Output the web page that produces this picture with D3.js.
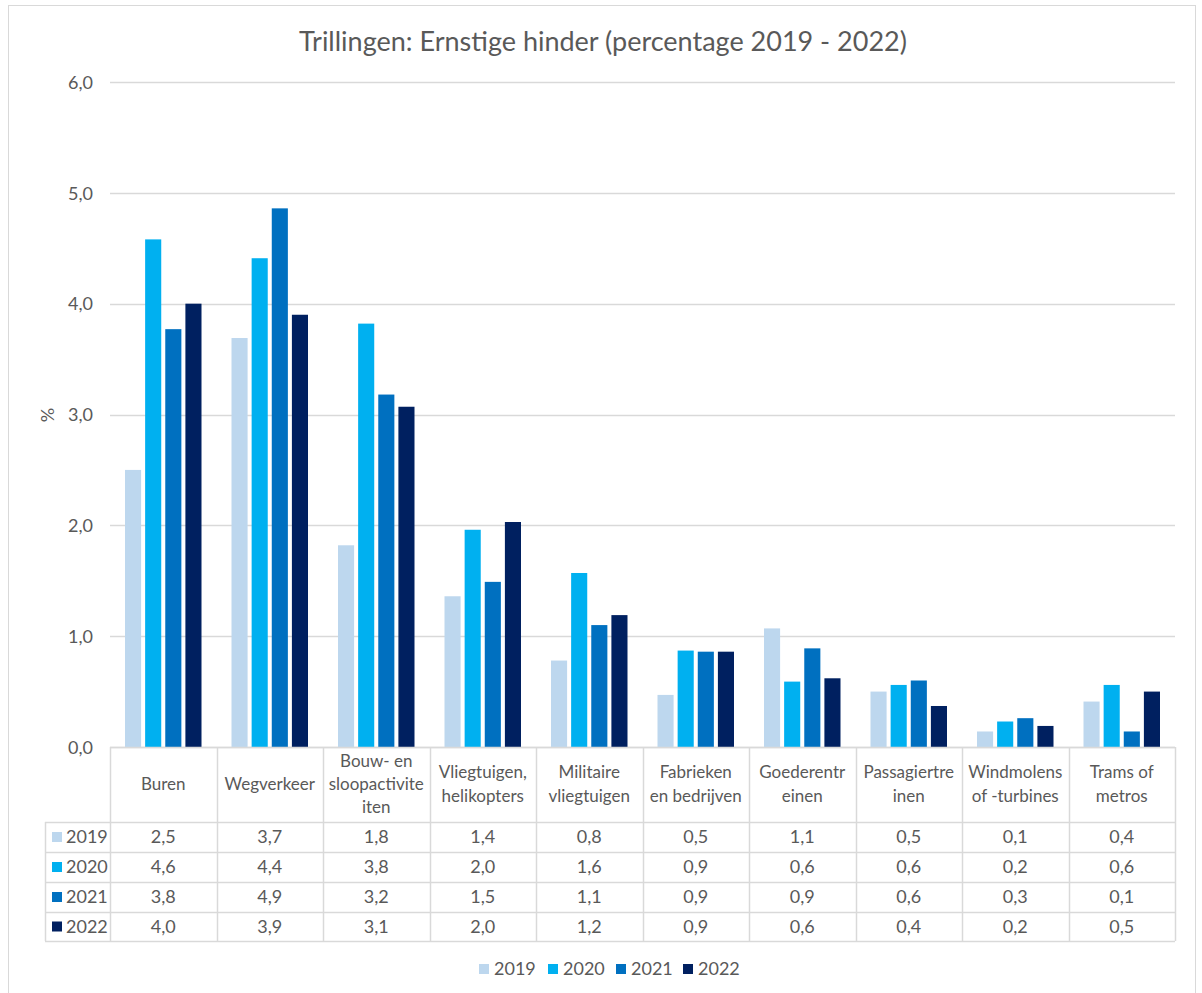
<!DOCTYPE html>
<html><head><meta charset="utf-8">
<script src="https://cdn.jsdelivr.net/npm/d3@7"></script>
<style>body{margin:0;background:#fff}svg{display:block}</style>
</head><body>
<script>
const title = "Trillingen: Ernstige hinder (percentage 2019 - 2022)";
const categories = ["Buren","Wegverkeer","Bouw- en\nsloopactivite\niten","Vliegtuigen,\nhelikopters","Militaire\nvliegtuigen","Fabrieken\nen bedrijven","Goederentr\neinen","Passagiertre\ninen","Windmolens\nof -turbines","Trams of\nmetros"];
const years = ["2019","2020","2021","2022"];
const v2019 = [2.50,3.69,1.82,1.36,0.78,0.47,1.07,0.50,0.14,0.41];
const v2020 = [4.58,4.41,3.82,1.96,1.57,0.87,0.59,0.56,0.23,0.56];
const v2021 = [3.77,4.86,3.18,1.49,1.10,0.86,0.89,0.60,0.26,0.14];
const v2022 = [4.00,3.90,3.07,2.03,1.19,0.86,0.62,0.37,0.19,0.50];
const yTicks = [0,1,2,3,4,5,6];
const colors = ["#BDD7EE","#00B0F0","#0070C0","#002060"];
const series = [v2019,v2020,v2021,v2022];

const W=1202,H=993;
const font="Lato, 'Open Sans', sans-serif";
const textCol="#595959", gridCol="#D9D9D9";
const numSize=18, wordSize=17;
const svg=d3.select("body").append("svg").attr("width",W).attr("height",H).style("font-family",font);
svg.append("rect").attr("x",8.5).attr("y",5.5).attr("width",1187).attr("height",H).attr("fill","#fff").attr("stroke","#D9D9D9");

svg.append("text").attr("x",603).attr("y",51).attr("text-anchor","middle").attr("font-size",27).attr("fill",textCol).text(title);

const pLeft=110,pRight=1175,pTop=82,pBottom=747;
const x0=d3.scaleBand().domain(categories).range([pLeft,pRight]);
const x1=d3.scaleBand().domain(years).range([15,x0.bandwidth()-15]).paddingInner(0.2);
const y=d3.scaleLinear().domain([0,6]).range([pBottom,pTop]);
const fmt=v=>d3.format(".1f")(v).replace(".",",");

// grid
svg.append("g").selectAll("line").data(yTicks).join("line")
 .attr("x1",pLeft).attr("x2",pRight).attr("y1",d=>Math.round(y(d))+0.5).attr("y2",d=>Math.round(y(d))+0.5)
 .attr("stroke",gridCol).attr("stroke-width",1.5);
// y axis labels
const ya=svg.append("g").attr("transform",`translate(${pLeft-17},0)`).call(d3.axisLeft(y).tickValues(yTicks).tickFormat(fmt).tickSize(0).tickPadding(0));
ya.select(".domain").remove();
ya.selectAll("text").attr("font-size",numSize).attr("fill",textCol).attr("font-family",font).attr("dy","0.35em");
svg.append("text").attr("transform",`translate(54,415) rotate(-90)`).attr("text-anchor","middle").attr("font-size",numSize).attr("fill",textCol).text("%");

// bars
series.forEach((s,i)=>{
  svg.append("g").selectAll("rect").data(s).join("rect")
   .attr("x",(d,j)=>x0(categories[j])+x1(years[i]))
   .attr("width",x1.bandwidth())
   .attr("y",d=>y(d)).attr("height",d=>y(0)-y(d))
   .attr("fill",colors[i]);
});

// data table
const rowTop=[747,822,852,882,912,941];
const tg=svg.append("g");
tg.append("line").attr("x1",pLeft).attr("x2",pRight).attr("y1",rowTop[0]+0.5).attr("y2",rowTop[0]+0.5).attr("stroke",gridCol).attr("stroke-width",1.5);
rowTop.slice(1).forEach(yy=>tg.append("line").attr("x1",45).attr("x2",pRight).attr("y1",yy+0.5).attr("y2",yy+0.5).attr("stroke",gridCol).attr("stroke-width",1.5));
const xs=categories.map(c=>x0(c)).concat([pRight]);
xs.forEach(xx=>tg.append("line").attr("x1",Math.round(xx)+0.5).attr("x2",Math.round(xx)+0.5).attr("y1",rowTop[0]).attr("y2",rowTop[5]).attr("stroke",gridCol).attr("stroke-width",1.5));
tg.append("line").attr("x1",45.5).attr("x2",45.5).attr("y1",rowTop[1]).attr("y2",rowTop[5]).attr("stroke",gridCol).attr("stroke-width",1.5);
categories.forEach(c=>{
  const lines=c.split("\n");
  const cx=x0(c)+x0.bandwidth()/2;
  const cy=(rowTop[0]+rowTop[1])/2;
  const lh=lines.length>2?23:24;
  const t=tg.append("text").attr("text-anchor","middle").attr("font-size",wordSize).attr("fill",textCol);
  lines.forEach((l,k)=>t.append("tspan").attr("x",cx).attr("y",cy+(k-(lines.length-1)/2)*lh).attr("dy","0.35em").text(l));
});
series.forEach((s,i)=>{
  const cy=(rowTop[i+1]+rowTop[i+2])/2;
  tg.append("rect").attr("x",52).attr("y",cy-5).attr("width",10).attr("height",10).attr("fill",colors[i]);
  tg.append("text").attr("x",66).attr("y",cy).attr("dy","0.35em").attr("font-size",numSize).attr("fill",textCol).text(years[i]);
  s.forEach((v,j)=>tg.append("text").attr("x",x0(categories[j])+x0.bandwidth()/2).attr("y",cy).attr("dy","0.35em").attr("text-anchor","middle").attr("font-size",numSize).attr("fill",textCol).text(fmt(v)));
});

// legend
const lx=[479,548,616,683];
years.forEach((yr,i)=>{
  svg.append("rect").attr("x",lx[i]).attr("y",964).attr("width",10).attr("height",10).attr("fill",colors[i]);
  svg.append("text").attr("x",lx[i]+15).attr("y",969).attr("dy","0.35em").attr("font-size",numSize).attr("fill",textCol).text(yr);
});
</script>
</body></html>
